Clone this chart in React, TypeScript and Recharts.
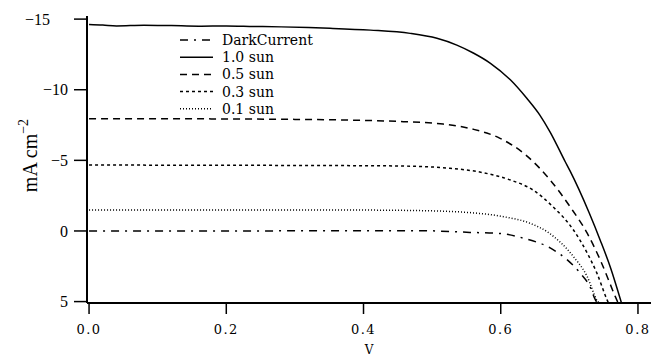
import React from 'react';
import { LineChart, Line, XAxis, YAxis } from 'recharts';

// Voltage (V) and current density (mA cm^-2) per series
const darkV = [0, 0.1, 0.2, 0.3, 0.4, 0.483, 0.555, 0.599, 0.636, 0.672, 0.697, 0.716, 0.73, 0.738, 0.741];
const darkI = [0, 0, 0, -0.01, -0.02, -0.02, 0.1, 0.18, 0.55, 1.2, 2.05, 3.0, 3.94, 4.88, 5.1];

const sun10V = [0, 0.02, 0.04, 0.08, 0.12, 0.16, 0.2, 0.24, 0.28, 0.32, 0.351, 0.41, 0.468, 0.507, 0.536, 0.56, 0.585, 0.614, 0.638, 0.657, 0.672, 0.694, 0.701, 0.729, 0.745, 0.76, 0.776];
const sun10I = [-14.62, -14.58, -14.52, -14.57, -14.54, -14.5, -14.52, -14.48, -14.45, -14.4, -14.35, -14.22, -13.99, -13.64, -13.16, -12.6, -11.87, -10.7, -9.39, -8.2, -7.0, -4.9, -4.25, -1.27, 0.65, 2.6, 5.1];

const sun05V = [0, 0.1, 0.2, 0.3, 0.4, 0.458, 0.516, 0.56, 0.599, 0.636, 0.672, 0.701, 0.726, 0.745, 0.767, 0.771];
const sun05I = [-7.95, -7.95, -7.93, -7.9, -7.83, -7.74, -7.57, -7.2, -6.56, -5.4, -3.61, -1.72, 0.16, 2.05, 4.65, 5.1];

const sun03V = [0, 0.1, 0.2, 0.3, 0.4, 0.453, 0.526, 0.574, 0.614, 0.647, 0.676, 0.706, 0.726, 0.74, 0.755, 0.757];
const sun03I = [-4.67, -4.66, -4.65, -4.64, -4.62, -4.6, -4.44, -4.13, -3.61, -2.9, -1.72, -0.07, 1.56, 2.97, 4.88, 5.1];

const sun01V = [0, 0.1, 0.2, 0.3, 0.4, 0.483, 0.555, 0.604, 0.643, 0.669, 0.706, 0.726, 0.74, 0.743];
const sun01I = [-1.49, -1.49, -1.49, -1.49, -1.48, -1.44, -1.3, -1.01, -0.54, 0.1, 1.82, 3.23, 4.88, 5.1];

const seriesNames = ['DarkCurrent', '1.0 sun', '0.5 sun', '0.3 sun', '0.1 sun'];
const seriesDash = ['8 6 2 6', '', '7 5', '3 3', '1 2'];

const xTicks = [0, 0.2, 0.4, 0.6, 0.8];
const yTicks = [-15, -10, -5, 0, 5];

const zip = (vs: number[], is: number[]) => vs.map((v, k) => ({ v, i: is[k] }));
const seriesData = [zip(darkV, darkI), zip(sun10V, sun10I), zip(sun05V, sun05I), zip(sun03V, sun03I), zip(sun01V, sun01I)];

const fmtY = (v: number) => (v < 0 ? '\u2212' + Math.abs(v) : String(v));
const fmtX = (v: number) => v.toFixed(1);

const MONOSERIF = "'DejaVu Serif', serif";
const SERIF = "'Liberation Serif', 'Times New Roman', serif";

const YTick = (props: any) => {
  const { x, y, payload } = props;
  const dx = payload.value === -15 ? -18 : 0;
  return (
    <text x={x + dx} y={y} dy="0.35em" textAnchor="end" style={{ fontFamily: SERIF }} fontSize={16} fill="#000">
      {fmtY(payload.value)}
    </text>
  );
};

const XTick = (props: any) => {
  const { x, y, payload } = props;
  return (
    <text x={x} y={y} dy="0.8em" textAnchor="middle" style={{ fontFamily: MONOSERIF, letterSpacing: 1.5 }} fontSize={13} fill="#000">
      {fmtX(payload.value)}
    </text>
  );
};

const YLabel = (props: any) => {
  const vb = props.viewBox || { x: 0, y: 16, width: 87, height: 287 };
  const cx = vb.x + 37;
  const cy = vb.y + vb.height / 2 - 4;
  return (
    <text x={cx} y={cy} transform={`rotate(-90, ${cx}, ${cy})`} textAnchor="middle" style={{ fontFamily: SERIF }} fontSize={20} fill="#000">
      <tspan>mA cm</tspan>
      <tspan dy={-9} fontSize={14}>{'\u2212'}2</tspan>
    </text>
  );
};

const LegendBox = () => (
  <svg width={150} height={90} style={{ display: 'block' }}>
    {seriesNames.map((n, k) => {
      const y = 8 + k * 17.2;
      return (
        <g key={n}>
          <line x1={5} x2={38} y1={y} y2={y} stroke="#000" strokeWidth={1.5} strokeDasharray={seriesDash[k] || undefined} />
          <text x={47} y={y} dy="0.35em" style={{ fontFamily: MONOSERIF }} fontSize={14} fill="#000">{n}</text>
        </g>
      );
    })}
  </svg>
);

export default function App() {
  return (
    <div style={{ position: 'absolute', left: 0, top: 0, width: 652, height: 358, background: '#fff' }}>
      <LineChart width={652} height={358} margin={{ top: 16, right: 1, bottom: 0, left: 0 }}>
        <XAxis
          dataKey="v"
          type="number"
          domain={[-0.003, 0.819]}
          ticks={xTicks}
          allowDataOverflow
          height={55}
          tickSize={11}
          tickMargin={10}
          axisLine={{ stroke: '#000', strokeWidth: 2 }}
          tickLine={{ stroke: '#000', strokeWidth: 1.5 }}
          tick={<XTick />}
          label={{ value: 'V', position: 'insideBottom', offset: 4, style: { fontFamily: MONOSERIF }, fontSize: 12, fill: '#000' }}
        />
        <XAxis xAxisId="top" orientation="top" type="number" domain={[0, 1]} height={0} tick={false} tickLine={false} axisLine={{ stroke: '#000', strokeWidth: 2 }} />
        <YAxis
          type="number"
          reversed
          domain={[-15.22, 5.1]}
          ticks={yTicks}
          allowDataOverflow
          width={87}
          tickSize={13}
          tickMargin={6}
          axisLine={{ stroke: '#000', strokeWidth: 2 }}
          tickLine={{ stroke: '#000', strokeWidth: 1.5 }}
          tick={<YTick />}
          label={{ content: <YLabel /> }}
        />
        <YAxis yAxisId="right" orientation="right" type="number" domain={[0, 1]} width={0} tick={false} tickLine={false} axisLine={{ stroke: '#000', strokeWidth: 2 }} />
        {seriesData.map((d, k) => (
          <Line
            key={seriesNames[k]}
            name={seriesNames[k]}
            data={d}
            dataKey="i"
            type="monotone"
            stroke="#000"
            strokeWidth={1.5}
            strokeDasharray={seriesDash[k] || undefined}
            dot={false}
            isAnimationActive={false}
          />
        ))}
      </LineChart>
      <div style={{ position: 'absolute', left: 175, top: 32 }}>
        <LegendBox />
      </div>
    </div>
  );
}
